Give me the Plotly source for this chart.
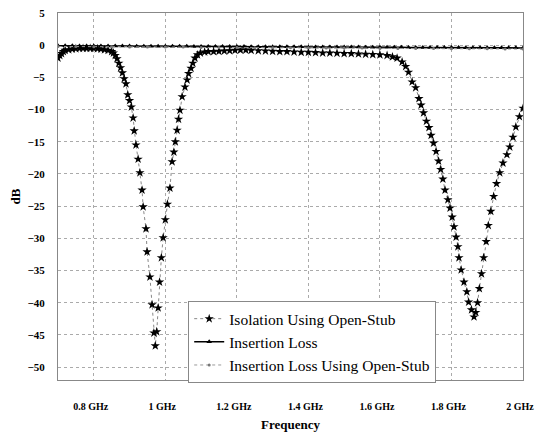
import plotly.graph_objects as go

# Isolation Using Open-Stub (GHz, dB)
iso_f = [0.700, 0.705, 0.710, 0.715, 0.720, 0.730, 0.740, 0.750, 0.760, 0.770,
         0.780, 0.790, 0.800, 0.810, 0.820, 0.830, 0.840, 0.850, 0.855, 0.860,
         0.865, 0.870, 0.875, 0.880, 0.885, 0.890, 0.895, 0.900, 0.905, 0.910,
         0.913, 0.918, 0.924, 0.929, 0.935, 0.938, 0.946, 0.949, 0.957, 0.963,
         0.968, 0.972, 0.976, 0.980, 0.984, 0.989, 0.994, 1.000, 1.006, 1.013,
         1.019, 1.024, 1.028, 1.033, 1.037, 1.041, 1.047, 1.055, 1.061, 1.065,
         1.072, 1.077, 1.083, 1.090, 1.098, 1.110, 1.120, 1.135, 1.150, 1.165,
         1.180, 1.195, 1.210, 1.225, 1.240, 1.260, 1.280, 1.300, 1.320, 1.340,
         1.360, 1.380, 1.400, 1.420, 1.440, 1.460, 1.480, 1.500, 1.520, 1.540,
         1.560, 1.580, 1.600, 1.620, 1.635, 1.648, 1.662, 1.672, 1.680, 1.690,
         1.700, 1.709, 1.715, 1.722, 1.730, 1.737, 1.743, 1.750, 1.757, 1.764,
         1.770, 1.776, 1.782, 1.790, 1.796, 1.802, 1.807, 1.813, 1.818, 1.821,
         1.827, 1.835, 1.843, 1.848, 1.856, 1.863, 1.868, 1.873, 1.878, 1.884,
         1.890, 1.897, 1.903, 1.910, 1.918, 1.926, 1.935, 1.944, 1.955, 1.963,
         1.972, 1.980, 1.990, 2.000]
iso_db = [-2.0, -1.6, -1.3, -1.0, -0.8, -0.7, -0.6, -0.55, -0.5, -0.5,
          -0.5, -0.5, -0.5, -0.55, -0.6, -0.7, -0.8, -1.0, -1.2, -1.6,
          -2.1, -2.8, -3.5, -4.3, -5.2, -6.0, -7.7, -8.6, -9.6, -11.3,
          -13.3, -15.5, -17.7, -19.8, -22.5, -25.1, -28.5, -32.1, -36.0, -40.3,
          -44.7, -46.7, -44.5, -40.8, -36.8, -33.0, -29.9, -27.1, -24.7, -22.2,
          -18.1, -16.6, -15.0, -13.2, -11.5, -10.1, -8.0, -6.5, -5.4, -4.4,
          -3.6, -2.8, -2.0, -1.5, -1.2, -1.05, -1.0, -1.0, -0.95, -0.9,
          -0.85, -0.8, -0.75, -0.75, -0.8, -0.85, -0.9, -0.95, -1.0, -1.0,
          -1.05, -1.1, -1.1, -1.15, -1.2, -1.2, -1.25, -1.3, -1.3, -1.35,
          -1.4, -1.45, -1.5, -1.6, -1.8, -2.0, -2.6, -3.3, -4.2, -5.7,
          -6.6, -8.3, -9.3, -10.5, -11.8, -12.8, -14.0, -15.2, -16.5, -18.0,
          -19.3, -20.8, -22.5, -24.0, -25.3, -26.7, -28.2, -29.8, -31.3, -33.0,
          -34.9, -36.8, -38.3, -39.9, -41.1, -42.2, -41.5, -40.0, -37.8, -35.5,
          -33.0, -30.5, -28.0, -25.8, -23.5, -21.5, -19.8, -18.3, -17.0, -15.8,
          -14.3, -12.7, -11.1, -9.8]

# Insertion Loss (GHz, dB)
il_f = [0.70, 0.72, 0.74, 0.76, 0.78, 0.80, 0.82, 0.84, 0.86, 0.88,
        0.90, 0.92, 0.94, 0.96, 0.98, 1.00, 1.02, 1.04, 1.06, 1.08,
        1.10, 1.12, 1.14, 1.16, 1.18, 1.20, 1.22, 1.24, 1.26, 1.28,
        1.30, 1.32, 1.34, 1.36, 1.38, 1.40, 1.42, 1.44, 1.46, 1.48,
        1.50, 1.52, 1.54, 1.56, 1.58, 1.60, 1.62, 1.64, 1.66, 1.68,
        1.70, 1.72, 1.74, 1.76, 1.78, 1.80, 1.82, 1.84, 1.86, 1.88,
        1.90, 1.92, 1.94, 1.96, 1.98, 2.00]
il_db = [-0.10, -0.10, -0.10, -0.11, -0.11, -0.12, -0.12, -0.13, -0.13, -0.14,
         -0.14, -0.15, -0.15, -0.16, -0.16, -0.17, -0.17, -0.18, -0.18, -0.19,
         -0.19, -0.20, -0.20, -0.21, -0.21, -0.22, -0.22, -0.23, -0.23, -0.24,
         -0.24, -0.25, -0.25, -0.26, -0.26, -0.27, -0.27, -0.28, -0.28, -0.29,
         -0.29, -0.30, -0.30, -0.31, -0.31, -0.32, -0.32, -0.33, -0.33, -0.34,
         -0.34, -0.35, -0.35, -0.36, -0.36, -0.37, -0.37, -0.38, -0.38, -0.39,
         -0.39, -0.40, -0.40, -0.41, -0.41, -0.42]

# Insertion Loss Using Open-Stub (GHz, dB)
ilos_f = [0.70, 0.75, 0.80, 0.85, 0.90, 0.95, 1.00, 1.05, 1.10, 1.15,
          1.20, 1.25, 1.30, 1.35, 1.40, 1.45, 1.50, 1.55, 1.60, 1.65,
          1.70, 1.75, 1.80, 1.85, 1.90, 1.95, 2.00]
ilos_db = [-0.2, -0.2, -0.25, -0.25, -0.3, -0.3, -0.3, -0.3, -0.35, -0.35,
           -0.35, -0.4, -0.4, -0.4, -0.4, -0.45, -0.45, -0.45, -0.5, -0.5,
           -0.5, -0.5, -0.55, -0.55, -0.55, -0.6, -0.6]

x_ticks = [0.8, 1.0, 1.2, 1.4, 1.6, 1.8, 2.0]
x_labels = ["0.8 GHz", "1 GHz", "1.2 GHz", "1.4 GHz", "1.6 GHz", "1.8 GHz", "2 GHz"]
y_ticks = [5, 0, -5, -10, -15, -20, -25, -30, -35, -40, -45, -50]

serif = "Liberation Serif, Times New Roman, serif"

fig = go.Figure()
fig.add_trace(go.Scatter(
    x=iso_f, y=iso_db, name="Isolation Using Open-Stub", mode="lines+markers",
    line=dict(color="#888888", width=1, dash="dot"),
    marker=dict(symbol="star", size=7, color="black")))
fig.add_trace(go.Scatter(
    x=il_f, y=il_db, name="Insertion Loss", mode="lines+markers",
    line=dict(color="black", width=1.5),
    marker=dict(symbol="triangle-up", size=5, color="black")))
fig.add_trace(go.Scatter(
    x=ilos_f, y=ilos_db, name="Insertion Loss Using Open-Stub", mode="lines+markers",
    line=dict(color="#999999", width=1, dash="dot"),
    marker=dict(symbol="circle", size=3, color="#777777")))

fig.update_layout(
    width=544, height=442,
    margin=dict(l=50, r=29, t=5, b=70, autoexpand=False),
    paper_bgcolor="white", plot_bgcolor="white",
    font=dict(family=serif, color="black"),
    showlegend=True,
    legend=dict(x=0.28, y=0.215, xanchor="left", yanchor="top",
                bgcolor="white", bordercolor="#888888", borderwidth=1,
                font=dict(family=serif, size=15.5, color="black"),
                tracegroupgap=0),
    xaxis=dict(range=[0.7, 2.0], tickvals=x_ticks, ticktext=x_labels,
               showgrid=True, gridcolor="#aaaaaa", griddash="dot", gridwidth=1,
               zeroline=False, showline=True, linecolor="#888888", mirror=True,
               ticks="", ticklabelstandoff=17, ticklabelshift=-3, automargin=False,
               tickfont=dict(family=serif, size=10, color="black", weight="bold"),
               title=dict(text="Frequency", standoff=8,
                          font=dict(family=serif, size=13, color="black", weight="bold"))),
    yaxis=dict(range=[-52, 5], tickvals=y_ticks,
               showgrid=True, gridcolor="#aaaaaa", griddash="dot", gridwidth=1,
               zeroline=False, showline=True, linecolor="#888888", mirror=True,
               ticks="", ticklabelstandoff=10, automargin=False,
               ticklabeloverflow="allow",
               tickfont=dict(family=serif, size=11, color="black", weight="bold"),
               title=dict(text="dB", standoff=12,
                          font=dict(family=serif, size=13, color="black", weight="bold"))),
)

fig.write_html("out.html")
